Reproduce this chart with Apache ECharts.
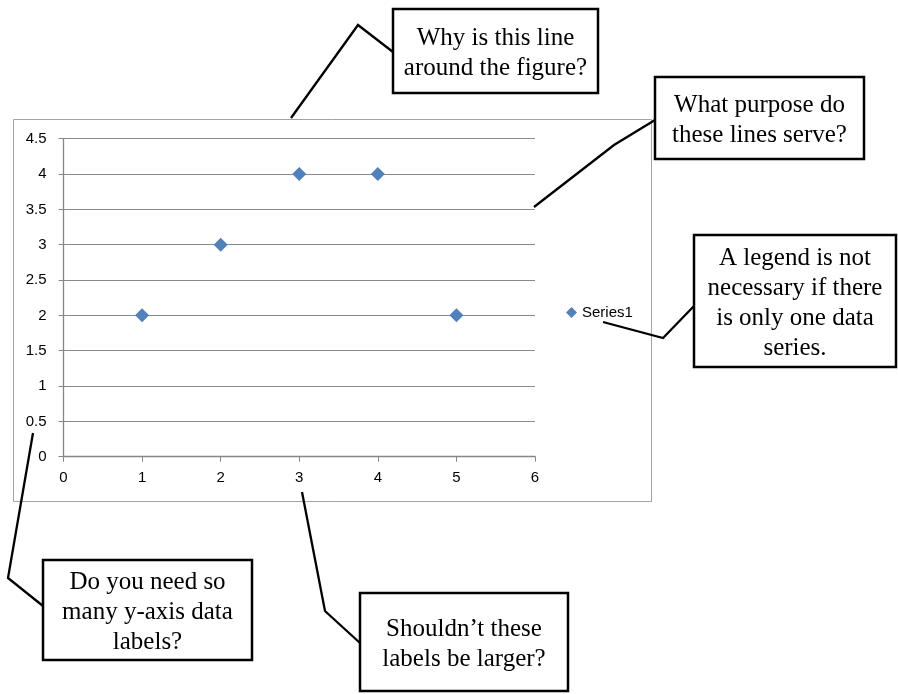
<!DOCTYPE html>
<html><head><meta charset="utf-8">
<script src="https://cdn.jsdelivr.net/npm/echarts@6/dist/echarts.min.js"></script>
<style>html,body{margin:0;padding:0;background:#fff}#c{width:898px;height:694px}</style>
</head><body><div id="c"></div>
<script>
const xValues = [1, 2, 3, 4, 5];
const yValues = [2, 3, 4, 4, 2];
const seriesName = 'Series1';
const xTicks = {min: 0, max: 6, interval: 1};
const yTicks = {min: 0, max: 4.5, interval: 0.5};
const callouts = [
  ['Why is this line', 'around the figure?'],
  ['What purpose do', 'these lines serve?'],
  ['A legend is not', 'necessary if there', 'is only one data', 'series.'],
  ['Do you need so', 'many y-axis data', 'labels?'],
  ['Shouldn\u2019t these', 'labels be larger?']
];
// layout of callout boxes [x, y, w, h] and connector polylines
const boxes = [[393, 9, 205, 84], [655, 77, 209, 82], [694, 235, 202, 132], [43, 560, 209, 100], [360, 593, 208, 98]];
const connectors = [
  [[393, 52], [358, 25], [291, 118]],
  [[655, 120], [614, 145], [534, 207]],
  [[694, 306], [663, 338], [603, 322]],
  [[43, 606], [8, 578], [33, 433]],
  [[360, 643], [325, 611], [302, 492]]
];

const chart = echarts.init(document.getElementById('c'), null, {renderer: 'canvas'});
const gray = '#898989';
const graphics = [
  {type: 'rect', shape: {x: 13.5, y: 119.5, width: 638, height: 382}, style: {fill: 'none', stroke: '#a3a3a3', lineWidth: 1}, z: 0, silent: true}
];
connectors.forEach(p => graphics.push({type: 'polyline', shape: {points: p}, style: {stroke: '#000', lineWidth: 2.3, fill: 'none'}, z: 10}));
boxes.forEach((b, i) => {
  graphics.push({type: 'rect', shape: {x: b[0], y: b[1], width: b[2], height: b[3]}, style: {fill: '#fff', stroke: '#000', lineWidth: 2.5}, z: 11});
  graphics.push({type: 'text', x: b[0] + b[2] / 2, y: b[1] + b[3] / 2 + 2, style: {text: callouts[i].join('\n'), align: 'center', verticalAlign: 'middle', font: '25px "Liberation Serif", "Times New Roman", serif', lineHeight: 30, fill: '#000'}, z: 12});
});

chart.setOption({
  animation: false,
  grid: {left: 63.5, top: 138.7, right: 363, bottom: 237.3, containLabel: false},
  legend: {
    data: [seriesName], left: 566, top: 305, padding: 0, icon: 'diamond', itemWidth: 11, itemHeight: 11, itemGap: 5,
    itemStyle: {opacity: 1},
    textStyle: {fontFamily: '"Liberation Sans", Arial, sans-serif', fontSize: 15, color: '#000'}
  },
  xAxis: {
    type: 'value', min: xTicks.min, max: xTicks.max, interval: xTicks.interval,
    axisLine: {show: true, lineStyle: {color: '#868686', width: 1.3}},
    axisTick: {show: true, length: 5, lineStyle: {color: '#868686'}},
    axisLabel: {margin: 14, fontFamily: '"Liberation Sans", Arial, sans-serif', fontSize: 15, color: '#000'},
    splitLine: {show: false}
  },
  yAxis: {
    type: 'value', min: yTicks.min, max: yTicks.max, interval: yTicks.interval,
    axisLine: {show: true, lineStyle: {color: '#868686', width: 1.3}},
    axisTick: {show: true, length: 5, lineStyle: {color: '#868686'}},
    axisLabel: {margin: 17, fontFamily: '"Liberation Sans", Arial, sans-serif', fontSize: 15, color: '#000'},
    splitLine: {show: true, lineStyle: {color: gray, width: 1}}
  },
  series: [{
    name: seriesName, type: 'scatter', symbol: 'diamond', symbolSize: 14,
    itemStyle: {color: '#4F81BD', opacity: 1},
    data: xValues.map((x, i) => [x, yValues[i]])
  }],
  graphic: graphics
});
</script></body></html>
